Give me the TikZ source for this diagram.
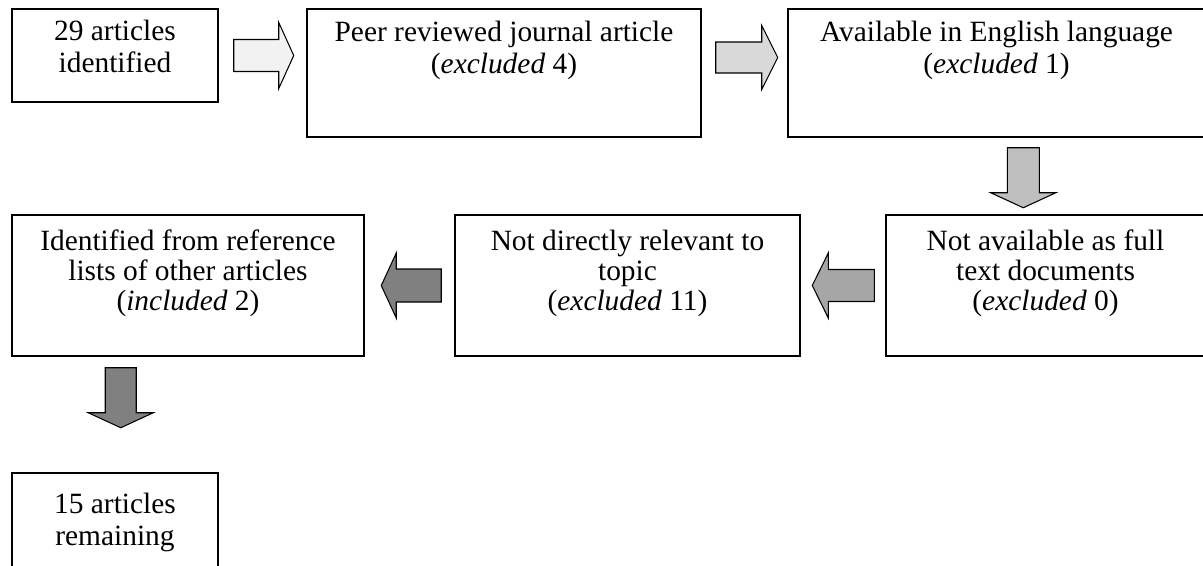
\documentclass[tikz,border=0pt]{standalone}
\usepackage{fontspec}
\setmainfont{Liberation Serif}
\usetikzlibrary{positioning}
\definecolor{arrowA}{RGB}{242,242,242}
\definecolor{arrowB}{RGB}{217,217,217}
\definecolor{arrowC}{RGB}{191,191,191}
\definecolor{arrowD}{RGB}{166,166,166}
\definecolor{arrowE}{RGB}{128,128,128}
\newcommand{\upx}{0.4762pt}

\begin{document}
\begin{tikzpicture}[
  x=\upx, y=-\upx,
  box/.style={
    draw=black,
    line width=0.7pt,
    inner sep=0pt
  },
  txt/.style={
    anchor=north,
    align=center,
    inner sep=0pt,
    font=\fontsize{14pt}{15.2pt}\selectfont
  },
  txttight/.style={txt, font=\fontsize{14pt}{14.4pt}\selectfont},
  barrow/.style={draw=black, line width=0.5pt, line join=miter}
]
\useasboundingbox (0,0) rectangle (1203,565);
\clip (0,0) rectangle (1203,565);

% Top row
\node[box, minimum width=206*\upx, minimum height=93*\upx] (count) at (115,55.5) {};
\node[box, minimum width=394*\upx, minimum height=128*\upx] (peer) at (504,73) {};
\node[box, minimum width=417*\upx, minimum height=128*\upx] (english) at (996.5,73) {};

% Middle row
\node[box, minimum width=319*\upx, minimum height=141*\upx] (fulltext) at (1045.5,285.5) {};
\node[box, minimum width=345*\upx, minimum height=141*\upx] (relevant) at (627.5,285.5) {};
\node[box, minimum width=352*\upx, minimum height=141*\upx] (reflist) at (188,285.5) {};

% Result
\node[box, minimum width=206*\upx, minimum height=107*\upx] (remain) at (115,526.5) {};

% Texts
\node[txt] (count-txt) at ([yshift=-11*\upx]count.north) {29 articles\\identified};
\node[txt] (peer-txt) at ([yshift=-12*\upx]peer.north) {Peer reviewed journal article\\(\textit{excluded} 4)};
\node[txt] (english-txt) at ([yshift=-12*\upx]english.north) {Available in English language\\(\textit{excluded} 1)};
\node[txttight] (fulltext-txt) at ([yshift=-15*\upx]fulltext.north) {Not available as full\\text documents\\(\textit{excluded} 0)};
\node[txttight] (relevant-txt) at ([yshift=-15*\upx]relevant.north) {Not directly relevant to\\topic\\(\textit{excluded} 11)};
\node[txttight] (reflist-txt) at ([yshift=-15*\upx]reflist.north) {Identified from reference\\lists of other articles\\(\textit{included} 2)};
\node[txt] (remain-txt) at ([yshift=-20*\upx]remain.north) {15 articles\\remaining};

% Block arrows
\coordinate (a1) at ([xshift=15*\upx]count.east);
\coordinate (a2) at ([xshift=14*\upx, yshift=15.5*\upx]peer.east);
\coordinate (a3) at ([xshift=236*\upx, yshift=-10*\upx]english.south west);
\coordinate (a4) at ([xshift=-11*\upx]fulltext.west);
\coordinate (a5) at ([xshift=-13*\upx]relevant.west);
\coordinate (a6) at ([xshift=109.5*\upx, yshift=-11*\upx]reflist.south west);

\draw[barrow, fill=arrowA] (a1) ++(0,-16) -- ++(45,0) -- ++(0,-17) -- ++(15,33)
  -- ++(-15,33) -- ++(0,-17) -- ++(-45,0) -- cycle;
\draw[barrow, fill=arrowB] (a2) ++(0,-15.5) -- ++(46,0) -- ++(0,-16.5) -- ++(16,32)
  -- ++(-16,32) -- ++(0,-16.5) -- ++(-46,0) -- cycle;
\draw[barrow, fill=arrowC] (a3) ++(-16,0) -- ++(0,45) -- ++(-16.5,0) -- ++(32.5,15)
  -- ++(32.5,-15) -- ++(-16.5,0) -- ++(0,-45) -- cycle;
\draw[barrow, fill=arrowD] (a4) ++(0,-16) -- ++(-46,0) -- ++(0,-16.5) -- ++(-16,32.5)
  -- ++(16,32.5) -- ++(0,-16.5) -- ++(46,0) -- cycle;
\draw[barrow, fill=arrowE] (a5) ++(0,-16.5) -- ++(-45,0) -- ++(0,-16) -- ++(-15,32.5)
  -- ++(15,32.5) -- ++(0,-16) -- ++(45,0) -- cycle;
\draw[barrow, fill=arrowE] (a6) ++(-15.5,0) -- ++(0,45) -- ++(-17,0) -- ++(32.5,15)
  -- ++(32.5,-15) -- ++(-17,0) -- ++(0,-45) -- cycle;

\end{tikzpicture}
\end{document}
